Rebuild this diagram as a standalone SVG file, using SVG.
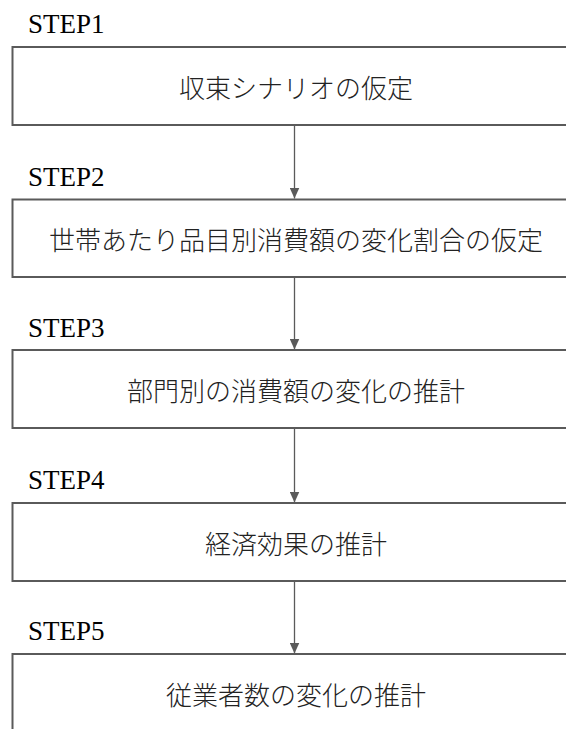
<svg xmlns="http://www.w3.org/2000/svg" width="566" height="729" viewBox="0 0 566 729">
<defs>
<style>
.box{fill:#ffffff;stroke:#5a5a5a;stroke-width:2}
.step{font-family:"Liberation Serif","Times New Roman",serif;font-size:27px;fill:#000}
.lbl{font-family:"Noto Sans CJK JP",sans-serif;font-weight:300;font-size:26px;fill:#222;text-anchor:middle;dominant-baseline:central}
.con{stroke:#5a5a5a;stroke-width:1.3;fill:none}
</style>
<marker id="arr" viewBox="0 0 11 10" refX="11" refY="5" markerWidth="11" markerHeight="10" markerUnits="userSpaceOnUse" orient="auto">
<path d="M0,0 L11,5 L0,10 Z" fill="#5a5a5a"/>
</marker>
</defs>
<rect width="566" height="729" fill="#ffffff"/>
<g id="connectors">
<line class="con" x1="294.5" y1="125" x2="294.5" y2="198.5" marker-end="url(#arr)"/>
<line class="con" x1="294.5" y1="277" x2="294.5" y2="349.5" marker-end="url(#arr)"/>
<line class="con" x1="294.5" y1="428" x2="294.5" y2="502.5" marker-end="url(#arr)"/>
<line class="con" x1="294.5" y1="581" x2="294.5" y2="653.5" marker-end="url(#arr)"/>
</g>
<g id="step1">
<text class="step" x="28" y="33">STEP1</text>
<rect class="box" x="12.5" y="47" width="566" height="78"/>
<text class="lbl" x="296" y="86">収束シナリオの仮定</text>
</g>
<g id="step2">
<text class="step" x="28" y="185.5">STEP2</text>
<rect class="box" x="12.5" y="199.5" width="566" height="77.5"/>
<text class="lbl" x="296" y="238">世帯あたり品目別消費額の変化割合の仮定</text>
</g>
<g id="step3">
<text class="step" x="28" y="337">STEP3</text>
<rect class="box" x="12.5" y="350" width="566" height="78"/>
<text class="lbl" x="296" y="389">部門別の消費額の変化の推計</text>
</g>
<g id="step4">
<text class="step" x="28" y="489">STEP4</text>
<rect class="box" x="12.5" y="503" width="566" height="78"/>
<text class="lbl" x="296" y="542">経済効果の推計</text>
</g>
<g id="step5">
<text class="step" x="28" y="640">STEP5</text>
<rect class="box" x="12.5" y="654" width="566" height="100"/>
<text class="lbl" x="296" y="693">従業者数の変化の推計</text>
</g>
</svg>
